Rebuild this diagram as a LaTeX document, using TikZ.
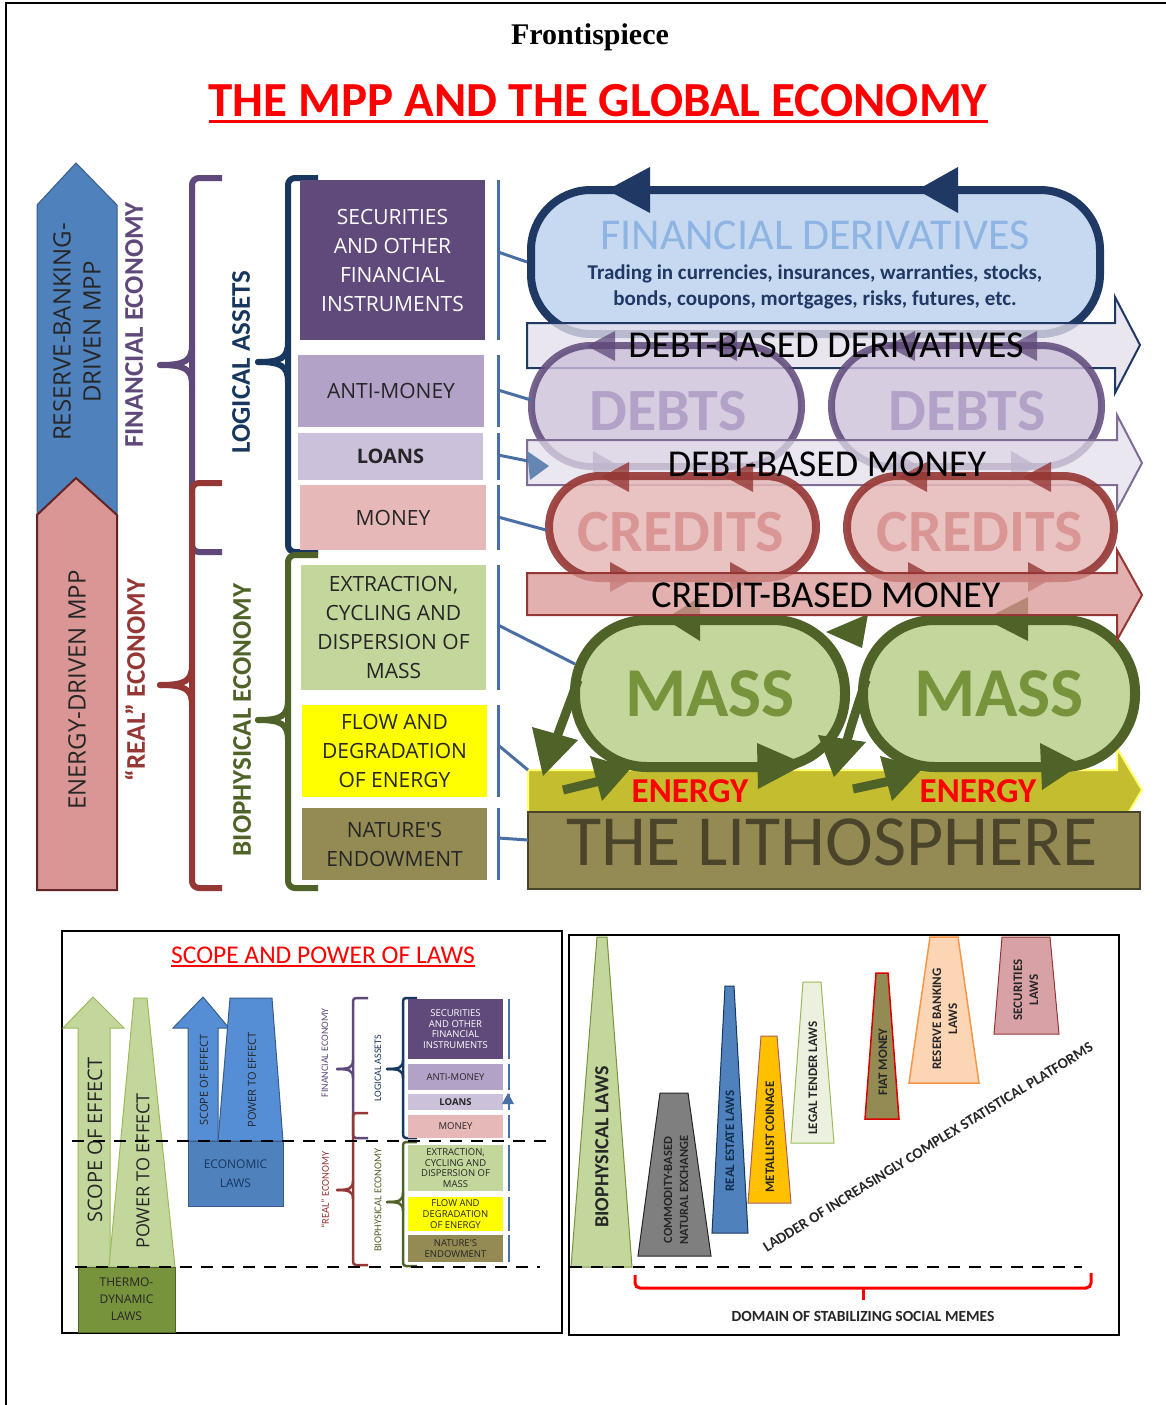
\documentclass[tikz,border=0pt]{standalone}
\usepackage{fontspec}
\setmainfont{Carlito}
\newfontfamily\osans{Open Sans}
\newfontfamily\tnr{Liberation Serif}
\usetikzlibrary{calc}
\newcommand\fsz[2]{\fontsize{#1}{#2}\selectfont}
% brace tip: color, x of vertical, y middle, x tip, line width, half length
\newcommand\btip[6]{%
  \draw[#1, line width=#5, line cap=round] (#2,#3-#6) .. controls (#2,#3-#6*0.2) and (#2-#6*0.35,#3) .. (#4,#3);
  \draw[#1, line width=#5, line cap=round] (#2,#3+#6) .. controls (#2,#3+#6*0.2) and (#2-#6*0.35,#3) .. (#4,#3);}
\definecolor{blueA}{HTML}{4F81BD}
\definecolor{blueD}{HTML}{385D8A}
\definecolor{pinkA}{HTML}{D99694}
\definecolor{pinkD}{HTML}{632523}
\definecolor{purp}{HTML}{5F497A}
\definecolor{dred}{HTML}{953735}
\definecolor{navy}{HTML}{17375E}
\definecolor{ogreen}{HTML}{4F6228}
\definecolor{secP}{HTML}{604A7B}
\definecolor{antiP}{HTML}{B3A2C7}
\definecolor{loanP}{HTML}{CCC1DA}
\definecolor{moneyP}{HTML}{E6B9B8}
\definecolor{massG}{HTML}{C3D69B}
\definecolor{yel}{HTML}{FFFF00}
\definecolor{natO}{HTML}{948A54}
\definecolor{lnk}{HTML}{4A6FA5}
\definecolor{fdFill}{HTML}{C6D9F1}
\definecolor{fdLine}{HTML}{1F3864}
\definecolor{fdText}{HTML}{8DB4E2}
\definecolor{lav}{HTML}{E4DFEC}
\definecolor{massT}{HTML}{77933C}
\definecolor{bandY}{HTML}{C4BD2F}
\definecolor{lithT}{HTML}{4A452A}
\definecolor{brightB}{HTML}{558ED5}
\definecolor{oliveG}{HTML}{9BBB59}
\definecolor{grayT}{HTML}{7F7F7F}
\definecolor{goldT}{HTML}{FFC000}
\definecolor{lgT}{HTML}{EBF1DE}
\definecolor{peach}{HTML}{FCD5B5}
\definecolor{orangeL}{HTML}{F79646}
\definecolor{roseT}{HTML}{D7A1A6}
\definecolor{darkT}{HTML}{262626}
\begin{document}
\begin{tikzpicture}[x=1pt,y=-1pt,
  bx/.style={inner sep=0pt, outer sep=0pt, align=center, font={\osans\fsz{21}{29}}, text=darkT},
  mbx/.style={inner sep=0pt, outer sep=0pt, align=center, font={\osans\fsz{9.5}{10.8}}, text=darkT},
  brc/.style={line width=6pt, rounded corners=7pt},
  mbrc/.style={line width=2.5pt, rounded corners=3pt},
  lnkl/.style={lnk, line width=3pt},
  mlnk/.style={lnk, line width=1.3pt},
  vtxt/.style={rotate=90, inner sep=0pt},
  dsh/.style={line width=2.6pt, dash pattern=on 12pt off 9pt},
  bigt/.style={inner sep=0pt, anchor=base},
]
\useasboundingbox (0,0) rectangle (1166,1405);
\fill[white] (0,0) rectangle (1166,1405);
\draw[line width=1.5pt] (6,1405) -- (6,3) -- (1166,3);

% ---------------- titles
\node[bigt, font={\tnr\bfseries\fsz{30}{34}}] (front) at (590,45) {Frontispiece};
\node[bigt, font={\bfseries\fsz{49}{52}}, text=red] (title) at (598,116) {THE MPP AND THE GLOBAL ECONOMY};
\draw[red, line width=3pt] ([yshift=-5pt]title.base west) -- ([yshift=-5pt]title.base east);

% ---------------- left big arrows
\draw[fill=blueA, draw=blueD, line width=1pt] (37,515) -- (37,205) -- (76,163) -- (117,205) -- (117,515) -- (76,478) -- cycle;
\draw[fill=pinkA, draw=pinkD, line width=2pt] (37,890) -- (37,515) -- (76,478) -- (117,515) -- (117,890) -- cycle;
\node[vtxt, font={\osans\fsz{24}{30}}, align=center, text=darkT] (rbtxt) at (77,332) {RESERVE-BANKING-\\DRIVEN MPP};
\node[vtxt, font={\osans\fsz{24}{30}}, text=darkT] (edtxt) at (77,690) {ENERGY-DRIVEN MPP};

\node[vtxt, font={\bfseries\fsz{27}{30}}, text=purp] (fintxt) at (134,325) {FINANCIAL ECONOMY};
\node[vtxt, font={\bfseries\fsz{27}{30}}, text=dred] (realtxt) at (135,680) {``REAL'' ECONOMY};

% braces
\draw[brc, purp] (222,178) -- (192,178) -- (192,552) -- (222,552);
\btip{purp}{192}{365}{160}{6pt}{20}
\draw[brc, dred] (222,483) -- (192,483) -- (192,888) -- (222,888);
\btip{dred}{192}{685}{160}{6pt}{20}
\node[vtxt, font={\bfseries\fsz{27}{30}}, text=navy] (logtxt) at (241,362) {LOGICAL ASSETS};
\node[vtxt, font={\bfseries\fsz{27}{30}}, text=ogreen] (biotxt) at (242,720) {BIOPHYSICAL ECONOMY};
\draw[brc, navy] (318,178) -- (288,178) -- (288,552) -- (318,552);
\btip{navy}{288}{362}{258}{6pt}{20}
\draw[brc, ogreen] (318,555) -- (288,555) -- (288,888) -- (318,888);
\btip{ogreen}{288}{720}{258}{6pt}{20}

% ---------------- middle column boxes
\node[bx, fill=secP, text=white, minimum width=185pt, minimum height=160pt] (b1) at (392.5,260) {SECURITIES\\AND OTHER\\FINANCIAL\\INSTRUMENTS};
\node[bx, fill=antiP, minimum width=186pt, minimum height=72pt] (b2) at (391,391) {ANTI-MONEY};
\node[bx, fill=loanP, minimum width=185pt, minimum height=47pt, font={\osans\bfseries\fsz{20}{24}}] (b3) at (390.5,456.5) {LOANS};
\node[bx, fill=moneyP, minimum width=186pt, minimum height=65pt] (b4) at (393,517.5) {MONEY};
\node[bx, fill=massG, minimum width=185pt, minimum height=125pt] (b5) at (393.5,627.5) {EXTRACTION,\\CYCLING AND\\DISPERSION OF\\MASS};
\node[bx, fill=yel, minimum width=185pt, minimum height=92pt] (b6) at (394.5,751) {FLOW AND\\DEGRADATION\\OF ENERGY};
\node[bx, fill=natO, minimum width=185pt, minimum height=72pt] (b7) at (394.5,844) {NATURE'S\\ENDOWMENT};

% vertical link bars
\draw[lnkl] (498,180) -- (498,340);
\draw[lnkl] (498,355) -- (498,427);
\draw[lnkl] (498,433) -- (498,480);
\draw[lnkl] (498,485) -- (498,550);
\draw[lnkl] (498,565) -- (498,690);
\draw[lnkl] (498,705) -- (498,797);
\draw[lnkl] (498,808) -- (498,880);
\coordinate (v1) at (498,252);
\coordinate (v2) at (498,390);
\coordinate (v3) at (498,455);
\coordinate (v4) at (498,517);
\coordinate (v5) at (498,625);
\coordinate (v6) at (498,745);
\coordinate (v7) at (498,838);

% ---------------- right diagram
\node[draw=fdLine, fill=fdFill, line width=8pt, rounded corners=60pt, minimum width=569pt, minimum height=144pt, inner sep=0pt] (fd) at (815.5,262) {};
\fill[fdLine] (607,190) -- (650,167) -- (650,213) -- cycle;
\fill[fdLine] (917,190) -- (958,167) -- (958,213) -- cycle;

\draw[fill=lav, fill opacity=0.78, draw=fdLine, line width=2pt] (527,323) -- (1115,323) -- (1115,297) -- (1140,345) -- (1115,393) -- (1115,368) -- (527,368) -- cycle;

\node[draw=purp, draw opacity=0.85, fill=loanP, fill opacity=0.8, line width=7pt, rounded corners=60pt, minimum width=270pt, minimum height=121pt, inner sep=0pt] (debtL) at (666.5,406) {};
\node[draw=purp, draw opacity=0.85, fill=loanP, fill opacity=0.8, line width=7pt, rounded corners=60pt, minimum width=270pt, minimum height=121pt, inner sep=0pt] (debtR) at (966.5,406) {};
\foreach \ox in {531,831}{
  \fill[purp, opacity=0.75] (\ox+56,346) -- (\ox+84,331) -- (\ox+84,361) -- cycle;
  \fill[purp, opacity=0.75] (\ox+178,346) -- (\ox+206,331) -- (\ox+206,361) -- cycle;
  \fill[purp, opacity=0.75] (\ox+88,466) -- (\ox+62,451) -- (\ox+62,481) -- cycle;
  \fill[purp, opacity=0.75] (\ox+206,466) -- (\ox+180,451) -- (\ox+180,481) -- cycle;
}
\node[bigt, font={\bfseries\fsz{60}{60}}, text=antiP] (debtLt) at (668,430) {DEBTS};
\node[bigt, font={\bfseries\fsz{60}{60}}, text=antiP] (debtRt) at (967,430) {DEBTS};

\draw[fill=lav, fill opacity=0.72, draw=purp!80, line width=2pt] (527,440) -- (1117,440) -- (1117,415) -- (1142,463) -- (1117,510) -- (1117,485) -- (527,485) -- cycle;

\node[draw=dred, draw opacity=0.9, fill=moneyP, fill opacity=0.85, line width=8pt, rounded corners=51pt, minimum width=267pt, minimum height=102pt, inner sep=0pt] (credL) at (682.5,527) {};
\node[draw=dred, draw opacity=0.9, fill=moneyP, fill opacity=0.85, line width=8pt, rounded corners=51pt, minimum width=267pt, minimum height=102pt, inner sep=0pt] (credR) at (980.5,527) {};
\foreach \ox in {549,847}{
  \fill[dred, opacity=0.8] (\ox+52,477) -- (\ox+80,462) -- (\ox+80,492) -- cycle;
  \fill[dred, opacity=0.8] (\ox+176,477) -- (\ox+204,462) -- (\ox+204,492) -- cycle;
  \fill[dred, opacity=0.8] (\ox+88,577) -- (\ox+61,562) -- (\ox+61,592) -- cycle;
  \fill[dred, opacity=0.8] (\ox+208,577) -- (\ox+181,562) -- (\ox+181,592) -- cycle;
}
\node[bigt, font={\bfseries\fsz{60}{60}}, text=pinkA] (credLt) at (681,551) {CREDITS};
\node[bigt, font={\bfseries\fsz{60}{60}}, text=pinkA] (credRt) at (980,551) {CREDITS};

\draw[fill=bandY, draw=yel!55!white, line width=2pt] (528,770) -- (1117,770) -- (1117,748) -- (1142,790) -- (1117,832) -- (1117,812) -- (528,812) -- cycle;
\node[draw=lithT, fill=natO, line width=2pt, minimum width=612pt, minimum height=77pt, inner sep=0pt] (litho) at (834,850) {};

\node[draw=ogreen, fill=massG, line width=10pt, rounded corners=72pt, minimum width=270pt, minimum height=147pt, inner sep=0pt] (massL) at (710,693.5) {};
\node[draw=ogreen, fill=massG, line width=10pt, rounded corners=72pt, minimum width=272pt, minimum height=147pt, inner sep=0pt] (massR) at (999,693.5) {};
\node[bigt, font={\bfseries\fsz{70}{70}}, text=massT] (massLt) at (710,716) {MASS};
\node[bigt, font={\bfseries\fsz{70}{70}}, text=massT] (massRt) at (999,716) {MASS};
\fill[ogreen] (665,619) -- (700,597) -- (700,641) -- cycle;
\fill[ogreen] (985,619) -- (1028,597) -- (1028,641) -- cycle;
\fill[ogreen] (805,764) -- (757,743) -- (758,789) -- cycle;
\fill[ogreen] (1081,764) -- (1040,743) -- (1042,790) -- cycle;
\draw[ogreen, line width=9pt] (578,680) .. controls (568,708) and (560,728) .. (553,748);
\fill[ogreen] (543,776) -- (532,727) -- (578,740) -- cycle;
\draw[ogreen, line width=9pt] (563,790) -- (600,781);
\fill[ogreen] (590,756) -- (631,768) -- (602,801) -- cycle;
\draw[ogreen, line width=9pt] (866,680) .. controls (858,705) and (851,725) .. (845,748);
\fill[ogreen] (834,777) -- (818,735) -- (866,742) -- cycle;
\draw[ogreen, line width=9pt] (853,789) -- (890,781);
\fill[ogreen] (880,756) -- (923,768) -- (892,801) -- cycle;
\fill[ogreen] (826,632) -- (868,614) -- (862,648) -- cycle;

\draw[fill=pinkA, fill opacity=0.75, draw=dred, line width=2pt] (527,573) -- (1117,573) -- (1117,550) -- (1142,595) -- (1117,640) -- (1117,615) -- (527,615) -- cycle;

\node[bigt, font={\fsz{44}{44}}, text=fdText] (fdt) at (815,249) {FINANCIAL DERIVATIVES};
\node[bigt, font={\bfseries\fsz{21}{26}}, text=fdLine] (fdt1) at (815,279) {Trading in currencies, insurances, warranties, stocks,};
\node[bigt, font={\bfseries\fsz{21}{26}}, text=fdLine] (fdt2) at (815,305) {bonds, coupons, mortgages, risks, futures, etc.};
\node[bigt, font={\fsz{38}{38}}] (dbdt) at (826,357) {DEBT-BASED DERIVATIVES};
\node[bigt, font={\fsz{38}{38}}] (dbmt) at (827,476) {DEBT-BASED MONEY};
\node[bigt, font={\fsz{38}{38}}] (cbmt) at (826,607) {CREDIT-BASED MONEY};
\node[bigt, font={\bfseries\fsz{35}{35}}, text=red] (en1) at (690,802) {ENERGY};
\node[bigt, font={\bfseries\fsz{35}{35}}, text=red] (en2) at (978,802) {ENERGY};
\node[bigt, font={\fsz{72}{72}}, text=lithT] (litt) at (832,865) {THE LITHOSPHERE};

\draw[lnkl] (v1) -- (fd.west);
\coordinate (d2) at (531,400);
\draw[lnkl] (v2) -- (d2);
\coordinate (d3) at (528,461);
\draw[lnkl] (v3) -- (d3);
\fill[lnk!85] (549,466) -- (527,451) -- (530,480) -- cycle;
\coordinate (d4) at (546,530);
\draw[lnkl] (v4) -- (d4);
\coordinate (d5) at (575,664);
\draw[lnkl] (v5) -- (d5);
\coordinate (d6) at (528,770);
\draw[lnkl] (v6) -- (d6);
\coordinate (d7) at (528,840);
\draw[lnkl] (v7) -- (d7);

% ================= bottom left panel
\draw[line width=1.5pt] (62,931) rectangle (562,1333);
\node[bigt, font={\fsz{25.5}{27}}, text=red] (sptitle) at (323,963) {SCOPE AND POWER OF LAWS};
\draw[red, line width=1.6pt] ([yshift=-3pt]sptitle.base west) -- ([yshift=-3pt]sptitle.base east);

\draw[fill=massG, draw=oliveG, line width=1pt] (78,1267) -- (78,1028) -- (63,1028) -- (93,997) -- (124,1028) -- (110,1028) -- (110,1267) -- cycle;
\draw[fill=massG, draw=oliveG, line width=1pt] (109,1267) -- (134,998) -- (147,998) -- (175,1267) -- cycle;
\node[draw=ogreen, fill=massT, line width=0.8pt, minimum width=97pt, minimum height=65pt, inner sep=0pt, align=center, font={\osans\fsz{12}{17}}, text=darkT] (thermo) at (126.5,1299.5) {THERMO-\\DYNAMIC\\LAWS};
\node[vtxt, font={\osans\fsz{20}{22}}, text=darkT] (scope1) at (95,1140) {SCOPE OF EFFECT};
\node[vtxt, font={\osans\fsz{18}{20}}, text=darkT] (power1) at (143,1171) {POWER TO EFFECT};

\draw[fill=brightB, draw=blueD, line width=1pt] (188,1141) -- (188,1028) -- (173,1028) -- (203,997) -- (229,1028) -- (218,1028) -- (218,1141) -- cycle;
\draw[fill=brightB, draw=blueD, line width=1pt] (218,1141) -- (230,998) -- (272,998) -- (283,1141) -- cycle;
\node[draw=blueD, fill=blueA, line width=0.8pt, minimum width=95pt, minimum height=65pt, inner sep=0pt, align=center, font={\osans\fsz{12}{19}}, text=navy] (econ) at (235.5,1173.5) {ECONOMIC\\LAWS};
\node[vtxt, font={\osans\fsz{11}{12}}, text=darkT] (scope2) at (204,1080) {SCOPE OF EFFECT};
\node[vtxt, font={\osans\fsz{11}{12}}, text=darkT] (power2) at (252,1080) {POWER TO EFFECT};

\node[vtxt, font={\fsz{10}{11}}, text=purp] (mfin) at (325,1053) {FINANCIAL ECONOMY};
\node[vtxt, font={\fsz{10.5}{11}}, text=dred] (mreal) at (325,1190) {``REAL'' ECONOMY};
\node[vtxt, font={\fsz{10}{11}}, text=navy] (mlog) at (378,1068) {LOGICAL ASSETS};
\node[vtxt, font={\fsz{10.5}{11}}, text=ogreen] (mbio) at (378,1200) {BIOPHYSICAL ECONOMY};
\draw[mbrc, purp] (368,998) -- (353,998) -- (353,1138) -- (368,1138);
\btip{purp}{353}{1069}{337}{2.5pt}{9}
\draw[mbrc, dred] (368,1113) -- (353,1113) -- (353,1265) -- (368,1265);
\btip{dred}{353}{1190}{337}{2.5pt}{9}
\draw[mbrc, navy] (417,998) -- (403,998) -- (403,1138) -- (417,1138);
\btip{navy}{403}{1069}{387}{2.5pt}{9}
\draw[mbrc, ogreen] (417,1142) -- (403,1142) -- (403,1266) -- (417,1266);
\btip{ogreen}{403}{1202}{387}{2.5pt}{9}
\node[mbx, fill=secP, text=white, minimum width=95pt, minimum height=60pt] (m1) at (455.5,1029) {SECURITIES\\AND OTHER\\FINANCIAL\\INSTRUMENTS};
\node[mbx, fill=antiP, minimum width=95pt, minimum height=26pt] (m2) at (455.5,1077) {ANTI-MONEY};
\node[mbx, fill=loanP, minimum width=95pt, minimum height=16pt, font={\osans\bfseries\fsz{9.5}{10}}] (m3) at (455.5,1102) {LOANS};
\node[mbx, fill=moneyP, minimum width=95pt, minimum height=23pt] (m4) at (455.5,1126.5) {MONEY};
\node[mbx, fill=massG, minimum width=95pt, minimum height=46pt] (m5) at (455.5,1168) {EXTRACTION,\\CYCLING AND\\DISPERSION OF\\MASS};
\node[mbx, fill=yel, minimum width=95pt, minimum height=34pt] (m6) at (455.5,1214) {FLOW AND\\DEGRADATION\\OF ENERGY};
\node[mbx, fill=natO, minimum width=95pt, minimum height=27pt] (m7) at (455.5,1248.5) {NATURE'S\\ENDOWMENT};
\draw[mlnk] (509,999) -- (509,1059);
\draw[mlnk] (509,1064) -- (509,1090);
\draw[mlnk] (509,1094) -- (509,1110);
\draw[mlnk] (509,1115) -- (509,1138);
\draw[mlnk] (509,1145) -- (509,1191);
\draw[mlnk] (509,1197) -- (509,1231);
\draw[mlnk] (509,1235) -- (509,1262);
\fill[lnk] (508,1093) -- (502,1104) -- (514,1104) -- cycle;

\draw[dsh] (72,1141) -- (548,1141);
\draw[dsh] (75,1267) -- (540,1267);

% ================= bottom right panel
\draw[line width=1.5pt] (569,935) rectangle (1119,1335);
\draw[fill=massG, draw=massT, line width=1pt] (571,1267) -- (597,937) -- (607,937) -- (632,1267) -- cycle;
\node[vtxt, font={\bfseries\fsz{20}{21}}, text=darkT] (bioL) at (602,1147) {BIOPHYSICAL LAWS};
\draw[fill=grayT, draw=darkT, line width=1pt] (638,1256) -- (660,1093) -- (688,1093) -- (711,1256) -- cycle;
\node[vtxt, font={\bfseries\fsz{12.5}{16}}, align=center, text=darkT] (comm) at (676,1190) {COMMODITY-BASED\\NATURAL EXCHANGE};
\draw[fill=blueA, draw=navy, line width=1pt] (712,1233) -- (725,986) -- (734,986) -- (748,1233) -- cycle;
\node[vtxt, font={\bfseries\fsz{13}{14}}, text=navy!80!black] (reL) at (730,1141) {REAL ESTATE LAWS};
\draw[fill=goldT, draw=dred!80, line width=1pt] (748,1203) -- (761,1036) -- (777,1036) -- (791,1203) -- cycle;
\node[vtxt, font={\bfseries\fsz{13}{14}}, text=darkT] (metL) at (770,1137) {METALLIST COINAGE};
\draw[fill=lgT, draw=oliveG, line width=1pt] (791,1143) -- (803,982) -- (821,982) -- (834,1143) -- cycle;
\node[vtxt, font={\bfseries\fsz{13}{14}}, text=darkT] (legL) at (813,1078) {LEGAL TENDER LAWS};
\draw[fill=natO, draw=red!85!black, line width=1.5pt] (865,1119) -- (876,973) -- (888,973) -- (899,1119) -- cycle;
\node[vtxt, font={\bfseries\fsz{13}{14}}, text=darkT] (fiatL) at (883,1062) {FIAT MONEY};
\draw[fill=peach, draw=orangeL, line width=1.5pt] (909,1083) -- (930,937) -- (958,937) -- (979,1083) -- cycle;
\node[vtxt, font={\bfseries\fsz{13}{16}}, align=center, text=darkT] (resL) at (945,1019) {RESERVE BANKING\\LAWS};
\draw[fill=roseT, draw=dred, line width=1pt] (994,1034) -- (1002,937) -- (1050,937) -- (1059,1034) -- cycle;
\node[vtxt, font={\bfseries\fsz{13}{16}}, align=center, text=darkT] (secL) at (1026,990) {SECURITIES\\LAWS};

\node[rotate=31.7, inner sep=0pt, font={\bfseries\fsz{15}{16}}, text=darkT] (ladder) at (928,1147) {LADDER OF INCREASINGLY COMPLEX STATISTICAL PLATFORMS};

\draw[dsh] (570,1267) -- (1082,1267);
\draw[red, line width=3pt, rounded corners=5pt] (635,1275) -- (635,1288) -- (1091,1288) -- (1091,1273);
\draw[red, line width=3pt] (863,1288) -- (863,1300);
\node[bigt, font={\bfseries\fsz{15.5}{17}}, text=darkT] (domain) at (863,1321) {DOMAIN OF STABILIZING SOCIAL MEMES};
\end{tikzpicture}
\end{document}
